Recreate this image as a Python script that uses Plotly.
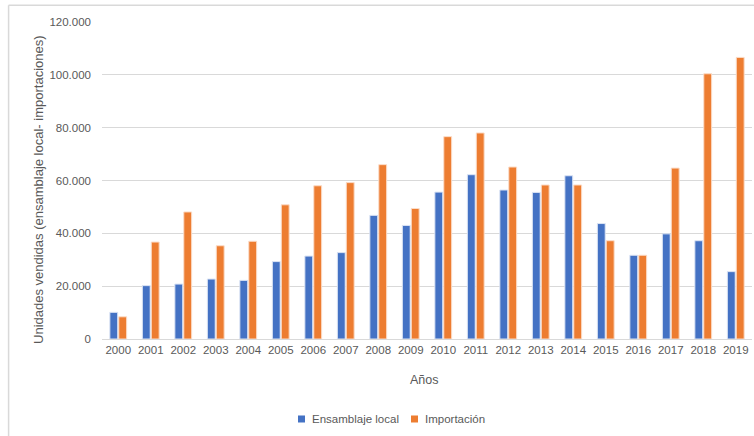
import plotly.graph_objects as go

# Unidades vendidas por año
anios = ["2000", "2001", "2002", "2003", "2004", "2005", "2006", "2007", "2008", "2009",
         "2010", "2011", "2012", "2013", "2014", "2015", "2016", "2017", "2018", "2019"]
ensamblaje_local = [10100, 20200, 20800, 22700, 22200, 29300, 31400, 32700, 46800, 43000,
                    55600, 62200, 56400, 55500, 61800, 43700, 31700, 39800, 37200, 25500]
importacion = [8400, 36700, 48100, 35300, 37000, 50800, 58000, 59200, 66000, 49400,
               76600, 78000, 65100, 58300, 58300, 37200, 31700, 64700, 100400, 106600]

y_ticks = [0, 20000, 40000, 60000, 80000, 100000, 120000]

AZUL = "#4472C4"
NARANJA = "#ED7D31"
GRIS_TEXTO = "#595959"
GRIS_LINEA = "#D9D9D9"
FUENTE = "Liberation Sans"

fig = go.Figure()
fig.add_trace(go.Bar(x=anios, y=ensamblaje_local, name="Ensamblaje local",
                     marker=dict(color=AZUL, line=dict(color="#DCE4F4", width=1))))
fig.add_trace(go.Bar(x=anios, y=importacion, name="Importación",
                     marker=dict(color=NARANJA, line=dict(color="#FBDCC8", width=1))))


def clave_leyenda(x0, color, texto):
    """Small square key plus its label below the plot."""
    forma = dict(type="rect", xref="paper", yref="paper",
                 x0=x0, x1=x0 + 0.0108, y0=-0.2634, y1=-0.2413,
                 fillcolor=color, line=dict(width=0))
    etiqueta = dict(text=texto, xref="paper", yref="paper", x=x0 + 0.0185, y=-0.2524,
                    xanchor="left", yanchor="middle", showarrow=False,
                    font=dict(family=FUENTE, size=11.5, color=GRIS_TEXTO))
    return forma, etiqueta


ley_azul = clave_leyenda(0.3015, AZUL, "Ensamblaje local")
ley_naranja = clave_leyenda(0.4754, NARANJA, "Importación")

fig.update_layout(
    width=754, height=436,
    margin=dict(l=102, r=2, t=22, b=97),
    paper_bgcolor="white", plot_bgcolor="white",
    barmode="group", bargap=0.45, bargroupgap=0.12,
    separators=",.",
    font=dict(family=FUENTE, size=11, color=GRIS_TEXTO),
    showlegend=False,
    xaxis=dict(type="category", showgrid=False, showline=True, linecolor=GRIS_LINEA,
               linewidth=1, ticks="", tickfont=dict(size=11.5, color=GRIS_TEXTO)),
    yaxis=dict(range=[0, 120000], tickvals=y_ticks, tickformat=",d",
               showgrid=True, gridcolor=GRIS_LINEA, gridwidth=1, zeroline=False,
               showline=False, ticks="", ticklabelstandoff=10,
               tickfont=dict(size=11.5, color=GRIS_TEXTO)),
    annotations=[
        dict(text="Unidades vendidas (ensamblaje local- importaciones)", textangle=-90,
             xref="paper", yref="paper", x=-0.098, y=0.471, xanchor="center",
             yanchor="middle", showarrow=False,
             font=dict(family=FUENTE, size=13, color=GRIS_TEXTO)),
        dict(text="Años", xref="paper", yref="paper", x=0.4965, y=-0.128,
             xanchor="center", yanchor="middle", showarrow=False,
             font=dict(family=FUENTE, size=12.5, color=GRIS_TEXTO)),
        ley_azul[1],
        ley_naranja[1],
    ],
    shapes=[
        # chart frame (left and top edges)
        dict(type="line", xref="paper", yref="paper", x0=-0.1437, x1=1.05, y0=1.053, y1=1.053,
             line=dict(color=GRIS_LINEA, width=1.5)),
        dict(type="line", xref="paper", yref="paper", x0=-0.1437, x1=-0.1437, y0=1.053, y1=-0.32,
             line=dict(color=GRIS_LINEA, width=1.5)),
        ley_azul[0],
        ley_naranja[0],
    ],
)

fig.write_html("out.html")
